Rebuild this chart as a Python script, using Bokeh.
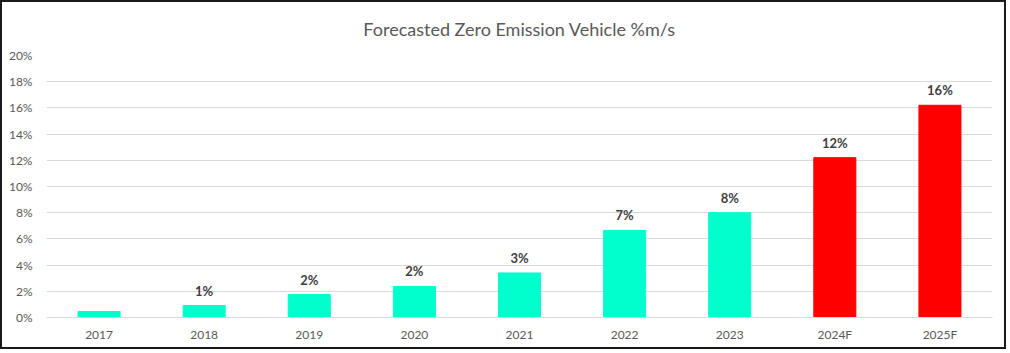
from bokeh.plotting import figure
from bokeh.models import ColumnDataSource, Range1d, NumeralTickFormatter, FixedTicker
from bokeh.embed import file_html
from bokeh.resources import INLINE
from bokeh.core.properties import value

years = ["2017", "2018", "2019", "2020", "2021", "2022", "2023", "2024F", "2025F"]
shares = [0.0046, 0.0091, 0.0175, 0.0237, 0.0340, 0.0665, 0.0800, 0.1220, 0.1620]
labels = ["", "1%", "2%", "2%", "3%", "7%", "8%", "12%", "16%"]
y_ticks = [0.0, 0.02, 0.04, 0.06, 0.08, 0.10, 0.12, 0.14, 0.16, 0.18, 0.20]
title_text = "Forecasted Zero Emission Vehicle %m/s"

ACTUAL = "#00FFCC"
FORECAST = "#FF0000"
colors = [FORECAST if y.endswith("F") else ACTUAL for y in years]

src = ColumnDataSource(dict(x=years, top=shares, label=labels, color=colors))

FONT = "Lato"
W, H = 1006, 349

p = figure(x_range=years, y_range=Range1d(0, 0.20), width=W, height=H,
           output_backend="svg", toolbar_location=None,
           min_border_left=44, min_border_right=16, min_border_top=53, min_border_bottom=34)
p.styles = {"border": "2px solid #1a1a1a"}

p.title.text = title_text
p.title.align = "center"
p.title.vertical_align = "top"
p.title.offset = -14
p.title.text_font = FONT
p.title.text_font_size = "18px"
p.title.text_font_style = "normal"
p.title.text_color = "#595959"
p.title.standoff = 27

p.vbar(x="x", top="top", width=0.4, color="color", source=src)
p.text(x="x", y="top", text="label", source=src, text_align="center",
       text_baseline="bottom", y_offset=-7, text_font=value(FONT),
       text_font_size="13px", text_font_style="bold", text_color="#404040")

p.outline_line_color = None
p.xgrid.grid_line_color = None
p.ygrid.grid_line_color = "#d9d9d9"
p.ygrid.grid_line_width = 1

p.yaxis.ticker = FixedTicker(ticks=y_ticks)
p.yaxis.formatter = NumeralTickFormatter(format="0%")
p.yaxis.axis_line_color = None
p.yaxis.major_tick_line_color = None
p.yaxis.minor_tick_line_color = None
p.yaxis.major_label_text_font = FONT
p.yaxis.major_label_text_font_size = "12px"
p.yaxis.major_label_text_color = "#595959"
p.yaxis.major_label_standoff = 8

p.xaxis.axis_line_color = "#d9d9d9"
p.xaxis.major_tick_line_color = None
p.xaxis.minor_tick_line_color = None
p.xaxis.major_label_text_font = FONT
p.xaxis.major_label_text_font_size = "12px"
p.xaxis.major_label_text_color = "#595959"
p.xaxis.major_label_standoff = 3

open("out.html", "w").write(file_html(p, INLINE))
